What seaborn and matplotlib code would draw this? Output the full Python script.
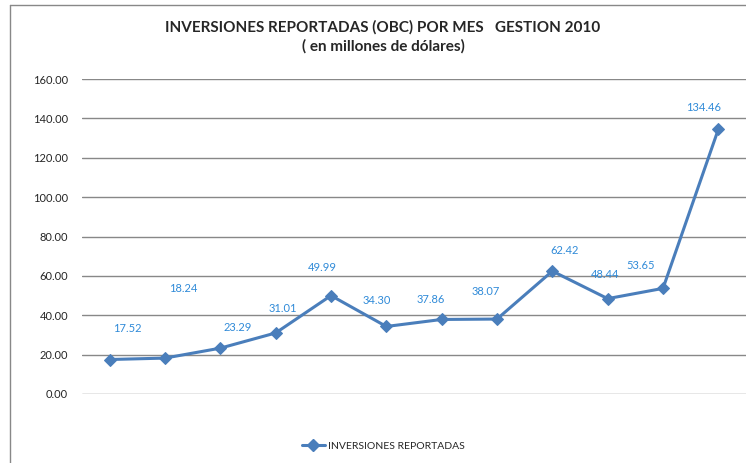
import numpy as np
import pandas as pd
import matplotlib
matplotlib.use("Agg")
import matplotlib.pyplot as plt
from matplotlib.lines import Line2D
import seaborn as sns

# monthly values (millions of dollars)
meses = ["Ene", "Feb", "Mar", "Abr", "May", "Jun", "Jul", "Ago", "Sep", "Oct", "Nov", "Dic"]
inversiones = [17.52, 18.24, 23.29, 31.01, 49.99, 34.30, 37.86, 38.07, 62.42, 48.44, 53.65, 134.46]
# label offsets in pixels (dx, dy), hand placed like the original
label_dx = [18, 18, 17, 7, -9, -10, -11, -11, 12, -3, -22, -15]
label_dy = [31, 70, 21, 24, 28, 26, 20, 28, 21, 24, 23, 22]

sns.set_style("white")
plt.rcParams["font.family"] = ["Lato", "DejaVu Sans"]

df = pd.DataFrame({"pos": np.arange(len(meses)), "valor": inversiones})

fig = plt.figure(figsize=(7.46, 4.63), dpi=100)
ax = fig.add_axes([82 / 746, 69 / 463, 664 / 746, 315 / 463])

blue = "#4A7EBB"
sns.lineplot(data=df, x="pos", y="valor", ax=ax, color=blue, linewidth=2.2,
             marker="D", markersize=6, markeredgecolor=blue,
             label="INVERSIONES REPORTADAS", legend=False)

for i, v in enumerate(inversiones):
    ax.annotate(f"{v:.2f}", (i, v), xytext=(label_dx[i] * 0.72, label_dy[i] * 0.72),
                textcoords="offset points", ha="center", va="center",
                fontsize=8, color="#2F8AD8")

ax.set_xlim(-0.5, len(meses) - 0.5)
ax.set_ylim(0, 160)
ax.set_yticks(np.arange(0, 161, 20))
ax.set_yticklabels([f"{t:.2f}" for t in np.arange(0, 161, 20)], fontsize=8)
ax.set_xticks([])
ax.grid(axis="y", color="#888888", linewidth=1)
ax.tick_params(axis="y", length=0, pad=10)
for s in ax.spines.values():
    s.set_visible(False)
ax.set_xlabel("")
ax.set_ylabel("")

fig.text(383 / 746, 1 - 27 / 463, "INVERSIONES REPORTADAS (OBC) POR MES   GESTION 2010",
         ha="center", va="center", fontsize=11, fontweight="bold")
fig.text(383 / 746, 1 - 46 / 463, "( en millones de dólares)",
         ha="center", va="center", fontsize=11, fontweight="bold")

handle = Line2D([], [], color=blue, linewidth=2.2, marker="D", markersize=6)
fig.legend([handle], ["INVERSIONES REPORTADAS"], loc="center",
           bbox_to_anchor=(383 / 746, 1 - 446 / 463), frameon=False, fontsize=7.5,
           handlelength=2.2, handletextpad=0.3)

# chart frame (left and top edges visible)
fig.add_artist(Line2D([10 / 746, 10 / 746], [0, 1 - 5 / 463], color="#888888", linewidth=1))
fig.add_artist(Line2D([10 / 746, 1], [1 - 5 / 463, 1 - 5 / 463], color="#888888", linewidth=1))

fig.savefig("out.png", dpi=100)
